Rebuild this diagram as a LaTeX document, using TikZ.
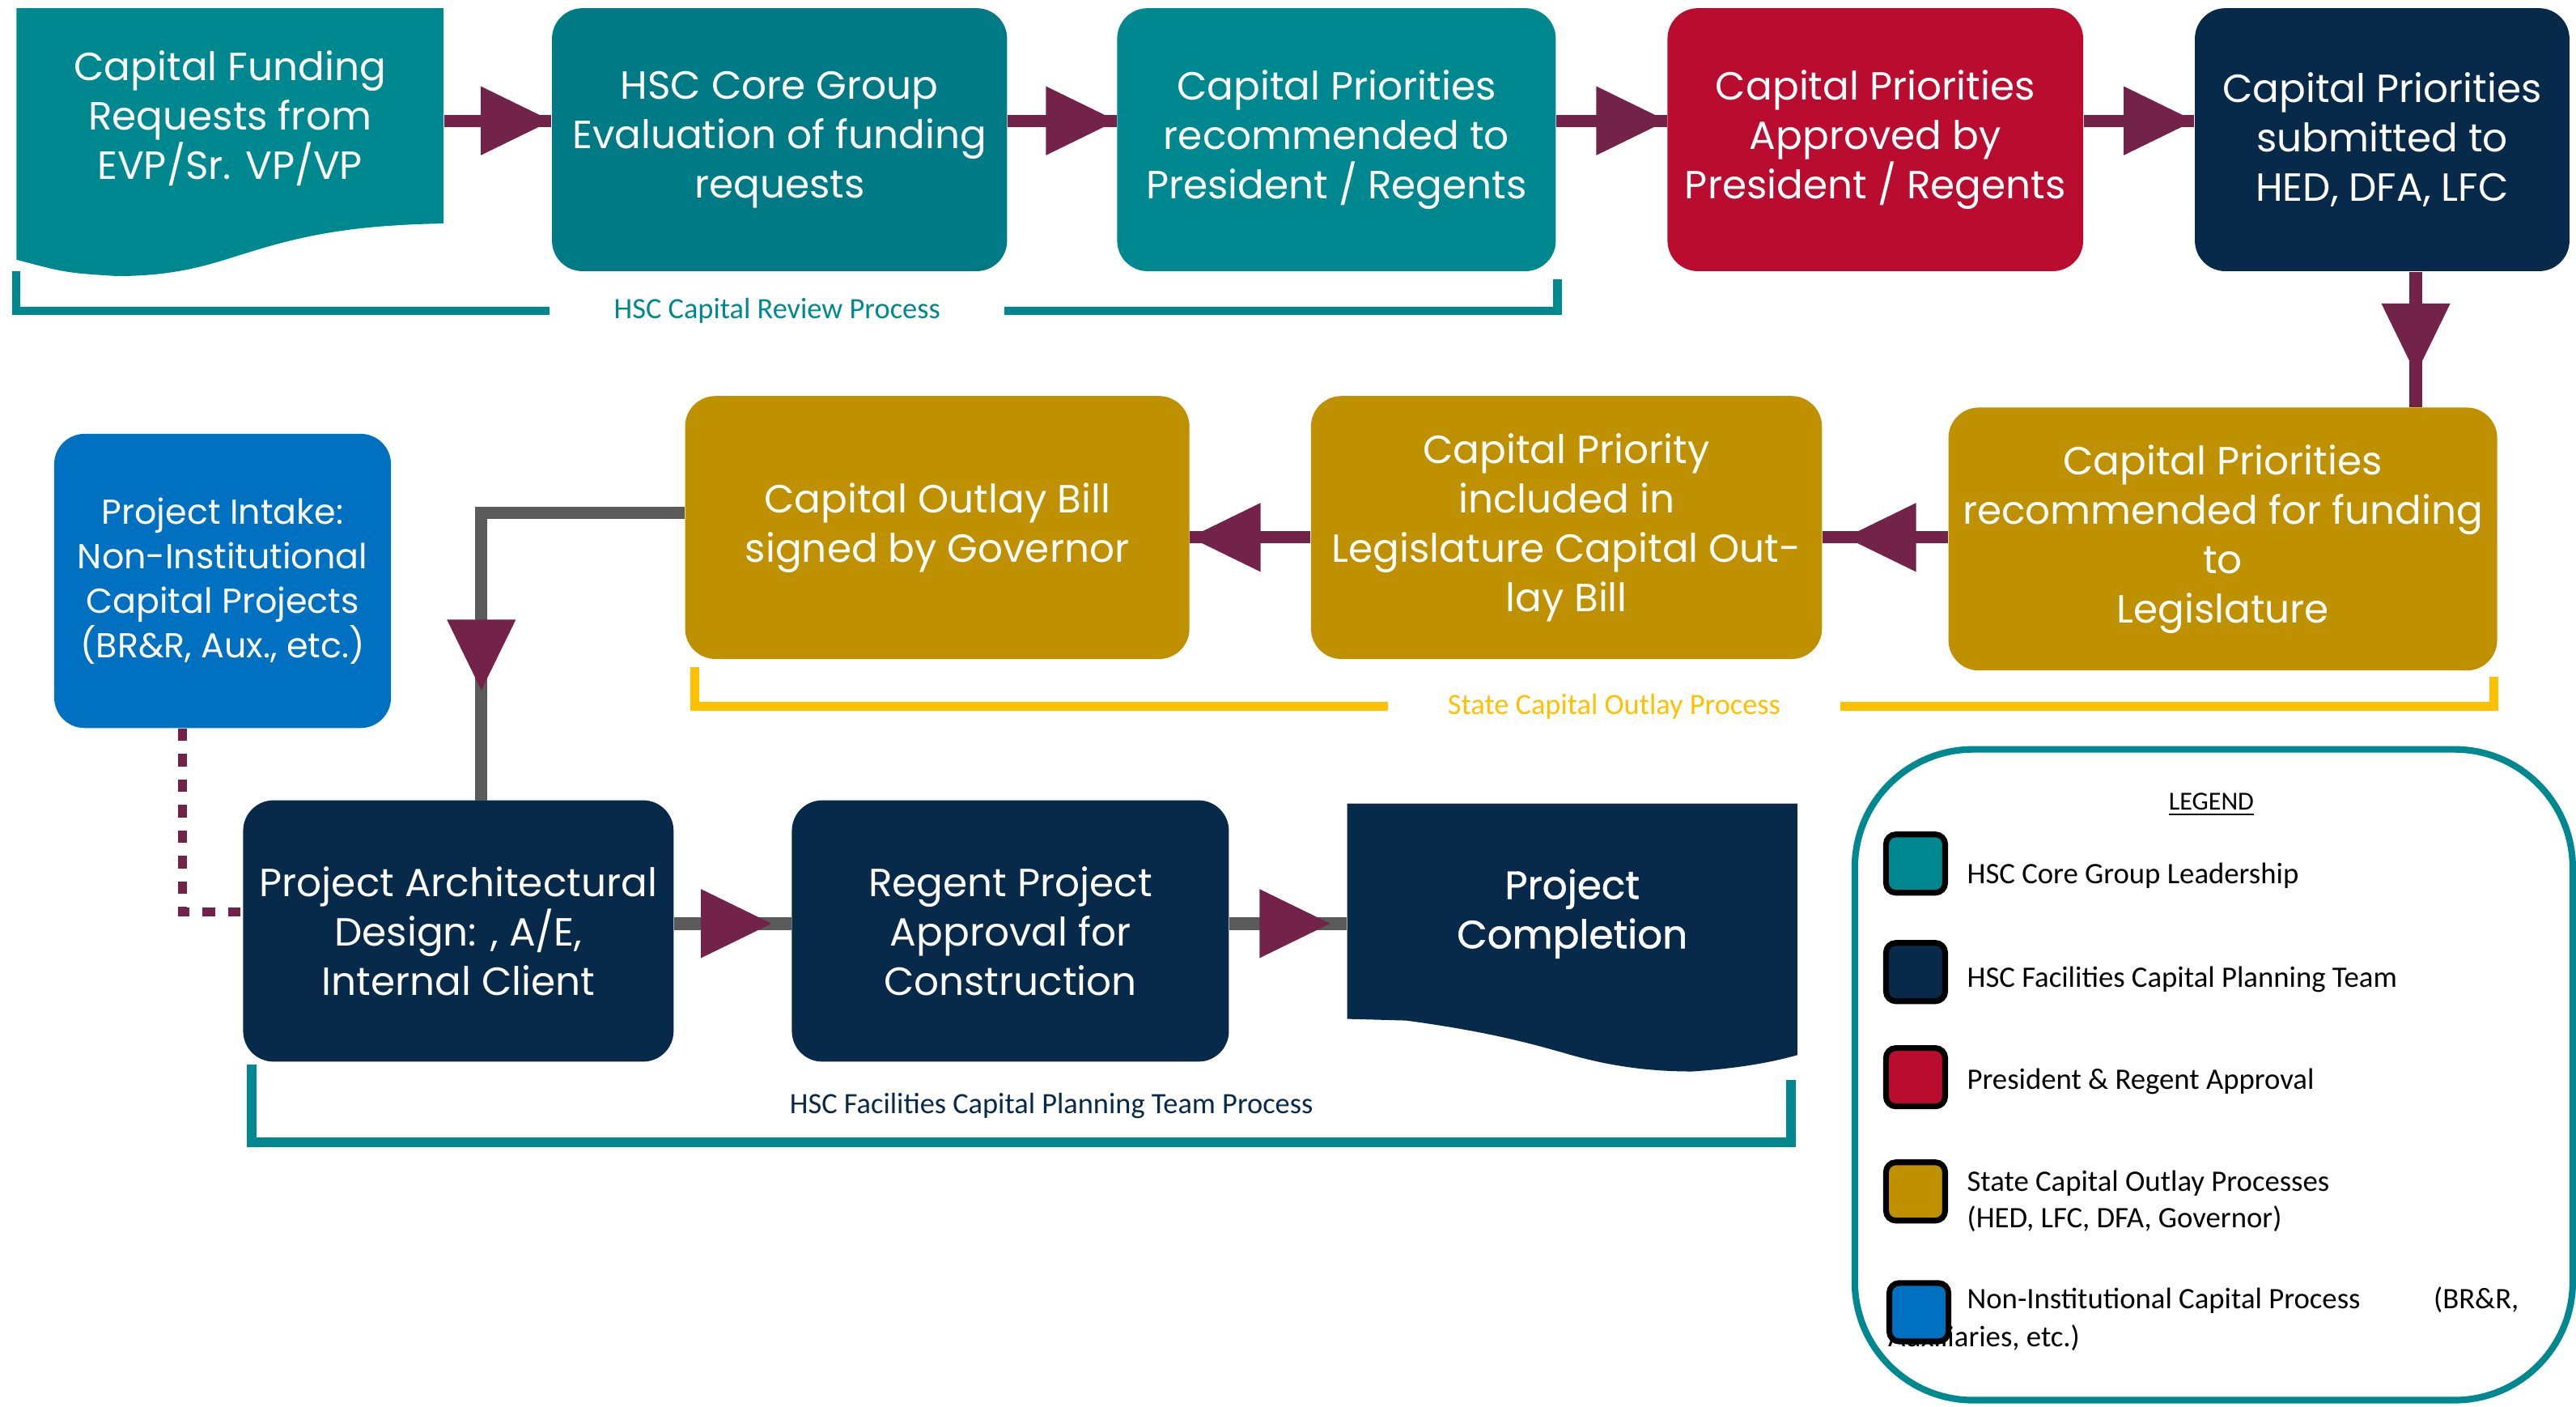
\documentclass[tikz,border=0pt]{standalone}
\usepackage{fontspec}
\usepackage{xcolor}
\usepackage{tikz}
\usetikzlibrary{arrows.meta, decorations.markings}

\newfontfamily\boxfont{Poppins}
\newfontfamily\boxfontmed{Poppins}[FakeBold=1]
\newfontfamily\calfont{Carlito}

\newdimen\pxu
\pxu=0.2mm

\definecolor{hscteal}{HTML}{008891}
\definecolor{hscdeep}{HTML}{007A85}
\definecolor{regred}{HTML}{BA0C2F}
\definecolor{facnavy}{HTML}{072A4B}
\definecolor{stategold}{HTML}{BF9000}
\definecolor{intakeblue}{HTML}{0070C0}
\definecolor{flowplum}{HTML}{73234A}
\definecolor{flowgrey}{HTML}{5A5A5A}
\definecolor{outlayyellow}{HTML}{FFC000}

\tikzset{
    stage/.style={rectangle, rounded corners=3.7mm, inner sep=0pt, align=center, text=white,
        font=\boxfont\fontsize{13.6}{17.1}\selectfont},
    corebox/.style={stage, fill=hscteal},
    teambox/.style={stage, fill=facnavy},
    regentbox/.style={stage, fill=regred},
    statebox/.style={stage, fill=stategold},
    tipat/.style={postaction={decorate}, decoration={markings, mark=at position #1 with
        {\arrow{Triangle[length=8.6mm, width=8.4mm, color=flowplum, line width=0pt]}}}},
    plumflow/.style={draw=flowplum, line width=7.5\pxu},
    greyflow/.style={draw=flowgrey, line width=7.5\pxu},
    dotflow/.style={draw=flowplum, line width=1.1mm, dash pattern=on 1.5mm off 1.6mm},
    proclabel/.style={inner sep=0pt, font=\calfont\fontsize{10.2}{12}\selectfont},
    keytext/.style={anchor=base west, inner sep=0pt, font=\calfont\fontsize{10.3}{12}\selectfont},
    keysq/.style={draw=black, line width=0.7mm, rounded corners=1.2mm, inner sep=0pt,
        minimum width=36\pxu, minimum height=35.5\pxu},
}

\begin{document}
\begin{tikzpicture}[x=0.2mm, y=-0.2mm]
    \useasboundingbox (0,0) rectangle (1568,856);

    \coordinate (rowa) at (0,73.5);
    \coordinate (rowb) at (0,327);
    \coordinate (rowc) at (0,562);
    \coordinate (colr) at (1470.5,0);
    \coordinate (bend) at (293,312);
    \coordinate (archin) at (293,487);
    \coordinate (ibend) at (111,555);

    % top row
    \fill[hscteal] (10,5) -- (270,5) -- (270,136) .. controls (215,137) and (185,143) .. (150,154)
        .. controls (130,160) and (110,168) .. (71,168) .. controls (40,166) .. (10,158) -- cycle;
    \node[stage, minimum width=260\pxu, minimum height=134\pxu] (reqs) at (140,72) {Capital Funding\\Requests from\\EVP/Sr. VP/VP};
    \node[stage, fill=hscdeep, minimum width=277\pxu, minimum height=160\pxu] (evalg) at (474.5,85) {HSC Core Group\\Evaluation of funding\\requests};
    \node[corebox, minimum width=267\pxu, minimum height=160\pxu] (recpres) at (813.5,85) {Capital Priorities\\recommended to\\President / Regents};
    \node[regentbox, minimum width=253\pxu, minimum height=160\pxu] (apprv) at (1141.5,85) {Capital Priorities\\Approved by\\President / Regents};
    \node[teambox, minimum width=228\pxu, minimum height=160\pxu] (subm) at (1450,85) {Capital Priorities\\submitted to\\HED, DFA, LFC};

    % middle row
    \node[statebox, minimum width=334\pxu, minimum height=160\pxu] (recleg) at (1353,328) {Capital Priorities\\recommended for funding\\to\\Legislature};
    \node[statebox, minimum width=311\pxu, minimum height=160\pxu] (inbill) at (953.5,321) {Capital Priority\\included in\\Legislature Capital Out-\\lay Bill};
    \node[statebox, minimum width=307\pxu, minimum height=160\pxu] (signed) at (570.5,321) {Capital Outlay Bill\\signed by Governor};

    \node[stage, fill=intakeblue, minimum width=205\pxu, minimum height=179\pxu,
        font=\boxfont\fontsize{12}{15.4}\selectfont] (intake) at (135.5,353.5) {Project Intake:\\Non-Institutional\\Capital Projects\\(BR\&R, Aux., etc.)};

    % bottom row
    \node[teambox, minimum width=262\pxu, minimum height=159\pxu] (archd) at (279,566.5) {Project Architectural\\Design: , A/E,\\Internal Client};
    \node[teambox, minimum width=266\pxu, minimum height=159\pxu] (regapp) at (615,566.5) {Regent Project\\Approval for\\Construction};
    \fill[facnavy] (820,489) -- (1094,489) -- (1094,642) .. controls (1080,646) and (1060,650) .. (1030,652)
        .. controls (1005,652) and (980,649) .. (953,641) .. controls (925,633) and (900,627) .. (856,621) -- (820,620) -- cycle;
    \node[stage, minimum width=274\pxu, minimum height=132\pxu, font=\boxfontmed\fontsize{13.6}{17.1}\selectfont] (done) at (957,556) {Project\\Completion};

    % connectors
    \draw[plumflow, tipat=1] (reqs.east |- rowa) -- (evalg.west |- rowa);
    \draw[plumflow, tipat=1] (evalg.east |- rowa) -- (recpres.west |- rowa);
    \draw[plumflow, tipat=1] (recpres.east |- rowa) -- (apprv.west |- rowa);
    \draw[plumflow, tipat=1] (apprv.east |- rowa) -- (subm.west |- rowa);
    \draw[plumflow, line width=8\pxu, tipat=-4mm] (subm.south -| colr) -- (recleg.north -| colr);
    \draw[plumflow, tipat=-2.8mm] (recleg.west |- rowb) -- (inbill.east |- rowb);
    \draw[plumflow, tipat=1] (inbill.west |- rowb) -- (signed.east |- rowb);
    \draw[greyflow, tipat=-13.4mm] (signed.west |- bend) -| (archin);
    \draw[greyflow, line width=8\pxu, tipat=-2.4mm] (archd.east |- rowc) -- (regapp.west |- rowc);
    \draw[greyflow, line width=8\pxu, tipat=-2mm] (regapp.east |- rowc) -- (done.west |- rowc);
    \draw[dotflow] (intake.south -| ibend) -- (ibend) -- (archd.west |- ibend);

    % process brackets
    \node[proclabel, text=hscteal, minimum width=276\pxu] (revlbl) at (473,189) {HSC Capital Review Process};
    \draw[hscteal, line width=1mm] (revlbl.west) -- (10,189) -- (10,165);
    \draw[hscteal, line width=1mm] (revlbl.east) -- (948,189) -- (948,170);
    \node[proclabel, text=outlayyellow, minimum width=275\pxu] (outlbl) at (982.5,430) {State Capital Outlay Process};
    \draw[outlayyellow, line width=1.1mm] (outlbl.west) -- (423,430) -- (423,406);
    \draw[outlayyellow, line width=1.1mm] (outlbl.east) -- (1518,430) -- (1518,412);
    \node[proclabel, text=facnavy] (planlbl) at (640,673) {HSC Facilities Capital Planning Team Process};
    \draw[hscteal, line width=1.2mm] (153,648) -- (153,695) -- (1090,695) -- (1090,657);

    % legend
    \node[draw=hscteal, line width=0.8mm, rounded corners=14.4mm, minimum width=437\pxu, minimum height=396\pxu] (legend) at (1347.5,654) {};
    \node[anchor=base, inner sep=0pt, font=\calfont\fontsize{9}{11}\selectfont] (legtitle) at (1346,493) {\underline{LEGEND}};
    \node[keytext] (kcore) at (1197,537.6) {HSC Core Group Leadership};
    \node[keytext] (kteam) at (1197,600.6) {HSC Facilities Capital Planning Team};
    \node[keytext] (kregent) at (1197,663) {President \& Regent Approval};
    \node[keytext] (kstate) at (1197,724.7) {State Capital Outlay Processes};
    \node[keytext] (kstateb) at (1197,747) {(HED, LFC, DFA, Governor)};
    \node[keytext] (kintake) at (1197,796.3) {Non-Institutional Capital Process};
    \node[keytext] (kintakeb) at (1481,796.3) {(BR\&R,};
    \node[keytext] (kintakec) at (1149,819.5) {Auxiliaries, etc.)};
    \node[keysq, fill=hscteal] (sqcore) at (1166,525.5) {};
    \node[keysq, fill=facnavy] (sqteam) at (1166,591.5) {};
    \node[keysq, fill=regred] (sqregent) at (1166,655.5) {};
    \node[keysq, fill=stategold] (sqstate) at (1166,725) {};
    \node[keysq, fill=intakeblue] (sqintake) at (1168,798.5) {};
\end{tikzpicture}
\end{document}
